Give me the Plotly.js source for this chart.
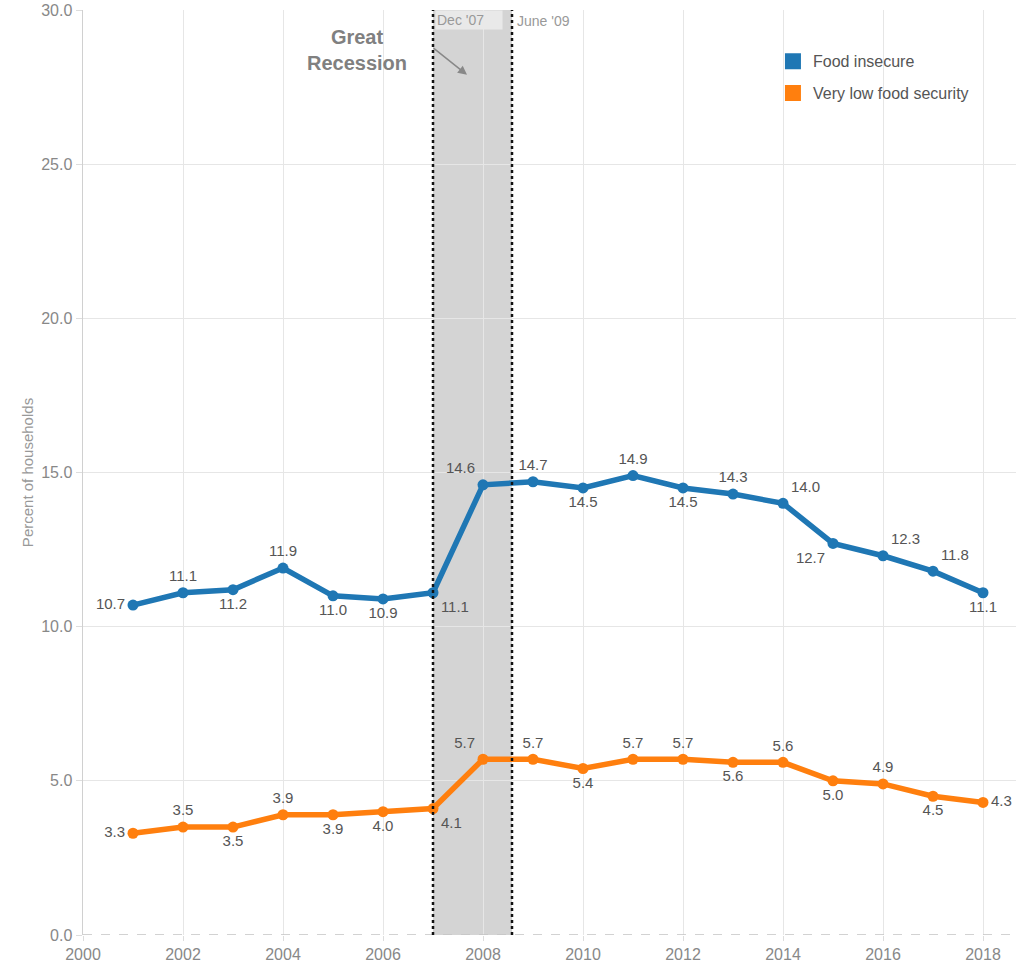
<!DOCTYPE html>
<html>
<head>
<meta charset="utf-8">
<script src="https://cdn.plot.ly/plotly-3.0.1.min.js"></script>
<style>
html,body{margin:0;padding:0;background:#fff;}
#chart{width:1016px;height:967px;}
</style>
</head>
<body>
<div id="chart"></div>
<script>
const years = [2001,2002,2003,2004,2005,2006,2007,2008,2009,2010,2011,2012,2013,2014,2015,2016,2017,2018];
const foodInsecure = [10.7,11.1,11.2,11.9,11.0,10.9,11.1,14.6,14.7,14.5,14.9,14.5,14.3,14.0,12.7,12.3,11.8,11.1];
const veryLow = [3.3,3.5,3.5,3.9,3.9,4.0,4.1,5.7,5.7,5.4,5.7,5.7,5.6,5.6,5.0,4.9,4.5,4.3];
const seriesNames = ["Food insecure","Very low food security"];
const recessionStart = 2007;
const recessionEnd = 2008.58;
const recessionStartLabel = "Dec '07";
const recessionEndLabel = "June '09";
const recessionTitle = "Great<br>Recession";
const yTickVals = [0,5,10,15,20,25,30];
const yTickText = ["0.0","5.0","10.0","15.0","20.0","25.0","30.0"];

const blueColor = '#1f77b4';
const orangeColor = '#ff7f0e';

const bluePos = ['middle left','top center','bottom center','top center','bottom center','bottom center','bottom right',
  'top left','top center','bottom center','top center','bottom center','top center','top right','bottom left','top right','top right','bottom center'];
const orangePos = ['middle left','top center','bottom center','top center','bottom center','bottom center','bottom right',
  'top left','top center','bottom center','top center','top center','bottom center','top center','bottom center','top center','bottom center','middle right'];

const labelFont = {family:'Liberation Sans, Arial, sans-serif', size:15, color:'#555'};

const traces = [
  {x:years, y:foodInsecure, mode:'lines+markers+text', name:seriesNames[0], showlegend:false,
   line:{color:blueColor, width:5.5}, marker:{color:blueColor, size:11},
   text:foodInsecure.map(v=>v.toFixed(1)), textposition:bluePos, textfont:labelFont, cliponaxis:false, hoverinfo:'x+y'},
  {x:years, y:veryLow, mode:'lines+markers+text', name:seriesNames[1], showlegend:false,
   line:{color:orangeColor, width:5.5}, marker:{color:orangeColor, size:11},
   text:veryLow.map(v=>v.toFixed(1)), textposition:orangePos, textfont:labelFont, cliponaxis:false, hoverinfo:'x+y'},
  {x:[null], y:[null], mode:'markers', name:seriesNames[0], legendgroup:'a',
   marker:{color:blueColor, size:20, symbol:'square'}},
  {x:[null], y:[null], mode:'markers', name:seriesNames[1], legendgroup:'b',
   marker:{color:orangeColor, size:20, symbol:'square'}}
];

const layout = {
  width:1016, height:967,
  margin:{l:83, r:0, t:10, b:32},
  paper_bgcolor:'#fff', plot_bgcolor:'#fff',
  font:{family:'Liberation Sans, Arial, sans-serif', color:'#888', size:12},
  showlegend:true,
  legend:{x:0.7395, y:0.963, xanchor:'left', yanchor:'top', bgcolor:'rgba(255,255,255,0)',
          font:{size:16, color:'#555'}, traceorder:'grouped', tracegroupgap:8, itemsizing:'trace'},
  xaxis:{range:[2000,2018.66], tick0:2000, dtick:2, showgrid:true, gridcolor:'#e6e6e6', gridwidth:1,
         zeroline:false, showline:false, ticks:'outside', ticklen:5, tickcolor:'#dddddd',
         tickfont:{size:16, color:'#888'}, fixedrange:true},
  yaxis:{range:[0,30], tickvals:yTickVals, ticktext:yTickText, showgrid:true, gridcolor:'#e6e6e6', gridwidth:1,
         zeroline:false, showline:true, linecolor:'#d0d0d0', linewidth:1.5, ticks:'outside', ticklen:6, tickcolor:'#dddddd',
         tickfont:{size:16, color:'#888'},
         title:{text:'Percent of households', font:{size:15, color:'#999'}, standoff:4}, automargin:false, fixedrange:true},
  shapes:[
    {type:'rect', xref:'x', yref:'y', x0:recessionStart, x1:recessionEnd, y0:0, y1:30, fillcolor:'#d4d4d4', line:{width:0}, layer:'below'},
    {type:'line', xref:'paper', yref:'y', x0:0, x1:1, y0:0, y1:0, line:{color:'#c4c4c4', width:1.5, dash:'dash'}},
    {type:'line', xref:'x', yref:'y', x0:recessionStart, x1:recessionStart, y0:0, y1:30, line:{color:'#111', width:2.5, dash:'dot'}},
    {type:'line', xref:'x', yref:'y', x0:recessionEnd, x1:recessionEnd, y0:0, y1:30, line:{color:'#111', width:2.5, dash:'dot'}}
  ],
  annotations:[
    {x:recessionStart, y:30, xref:'x', yref:'y', xanchor:'left', yanchor:'top', text:recessionStartLabel, showarrow:false,
     font:{size:14, color:'#999'}, bgcolor:'#e9e9e9', width:64, align:'left', xshift:2, borderpad:1},
    {x:recessionEnd, y:30, xref:'x', yref:'y', xanchor:'left', yanchor:'top', text:recessionEndLabel, showarrow:false,
     font:{size:14, color:'#999'}, xshift:3, yshift:-1},
    {x:2005.48, y:28.7, xref:'x', yref:'y', text:'<b>'+recessionTitle+'</b>', showarrow:false,
     font:{size:20, color:'#808080'}, align:'center'},
    {x:2007.68, y:27.9, xref:'x', yref:'y', ax:2006.98, ay:28.8, axref:'x', ayref:'y', text:'', showarrow:true,
     arrowhead:2, arrowsize:1.2, arrowwidth:1.5, arrowcolor:'#888'}
  ]
};

Plotly.newPlot('chart', traces, layout, {displayModeBar:false, staticPlot:true});
</script>
</body>
</html>
